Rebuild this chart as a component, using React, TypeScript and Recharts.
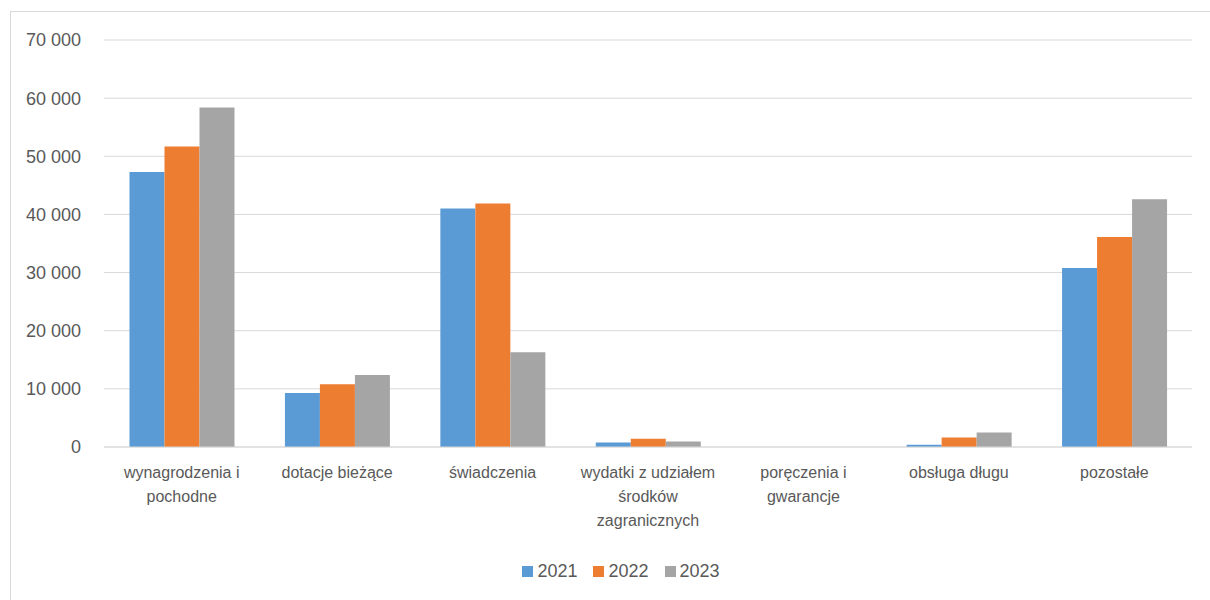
import React from "react";
import { BarChart, Bar, XAxis, YAxis, CartesianGrid, Legend, Text } from "recharts";

const categories = [
  "wynagrodzenia i pochodne",
  "dotacje bieżące",
  "świadczenia",
  "wydatki z udziałem środków zagranicznych",
  "poręczenia i gwarancje",
  "obsługa długu",
  "pozostałe",
];
const values2021 = [47300, 9300, 41000, 780, 0, 400, 30800];
const values2022 = [51700, 10800, 41900, 1400, 0, 1650, 36100];
const values2023 = [58400, 12400, 16300, 950, 0, 2500, 42600];
const yTicks = [0, 10000, 20000, 30000, 40000, 50000, 60000, 70000];

const series = [
  { key: "2021", color: "#5b9bd5" },
  { key: "2022", color: "#ed7d31" },
  { key: "2023", color: "#a5a5a5" },
];

const data = categories.map((name, i) => ({
  name,
  "2021": values2021[i],
  "2022": values2022[i],
  "2023": values2023[i],
}));

const FONT = "'Liberation Sans Narrow', 'Arial Narrow', 'Liberation Sans', Arial, sans-serif";
const TEXT = "#595959";

const fmt = (v: number) => String(v).replace(/\B(?=(\d{3})+(?!\d))/g, " ");

function CategoryTick(props: any) {
  const { x, y, payload } = props;
  return (
    <Text
      x={x}
      y={y}
      width={145}
      textAnchor="middle"
      verticalAnchor="start"
      lineHeight={24}
      fill={TEXT}
      style={{ fontFamily: FONT, fontSize: 16 }}
    >
      {payload.value}
    </Text>
  );
}

function LegendBox() {
  return (
    <div style={{ display: "flex", justifyContent: "center", height: 30, alignItems: "center", marginLeft: 50, fontFamily: FONT, fontSize: 18, color: TEXT }}>
      {series.map((s) => (
        <div key={s.key} style={{ display: "flex", alignItems: "center", margin: "0 8px" }}>
          <span style={{ width: 11, height: 11, background: s.color, marginRight: 4, display: "inline-block" }} />
          <span>{s.key}</span>
        </div>
      ))}
    </div>
  );
}

export default function App() {
  return (
    <div style={{ position: "fixed", left: 0, top: 0, width: 1210, height: 600, overflow: "hidden", background: "#fff" }}>
      <div
        style={{
          position: "absolute",
          left: 10,
          top: 11,
          width: 1240,
          height: 640,
          border: "1px solid #d9d9d9",
          boxSizing: "border-box",
        }}
      />
      <div style={{ position: "absolute", left: 0, top: 0 }}>
        <BarChart
          width={1210}
          height={600}
          data={data}
          margin={{ top: 40, right: 18, left: 0, bottom: 14 }}
          barCategoryGap="16.4%"
          barGap={0}
        >
          <CartesianGrid vertical={false} stroke="#d9d9d9" />
          <XAxis
            dataKey="name"
            interval={0}
            height={109}
            tickSize={0}
            tickMargin={20}
            axisLine={{ stroke: "#d9d9d9" }}
            tick={<CategoryTick />}
          />
          <YAxis
            width={104}
            domain={[0, 70000]}
            ticks={yTicks}
            tickFormatter={fmt}
            axisLine={false}
            tickLine={false}
            tickSize={0}
            tickMargin={23}
            tick={{ fill: TEXT, fontSize: 18, fontFamily: FONT }}
          />
          <Legend verticalAlign="bottom" content={<LegendBox />} />
          {series.map((s) => (
            <Bar key={s.key} dataKey={s.key} fill={s.color} isAnimationActive={false} />
          ))}
        </BarChart>
      </div>
    </div>
  );
}
